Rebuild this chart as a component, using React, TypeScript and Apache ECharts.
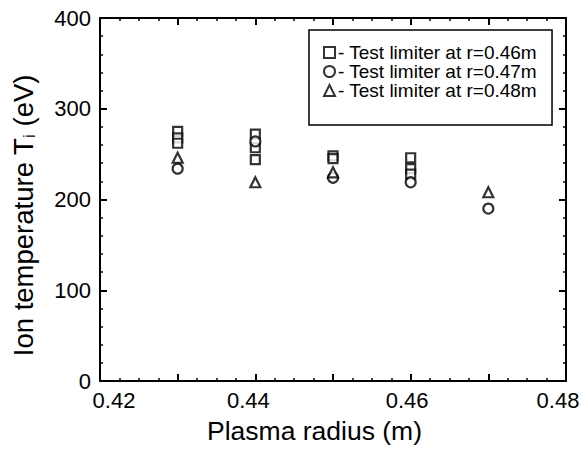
import React, { useEffect, useRef } from "react";
import * as echarts from "echarts";

const seriesNames = [
  "- Test limiter at r=0.46m",
  "- Test limiter at r=0.47m",
  "- Test limiter at r=0.48m",
];
const squareX = [0.43, 0.43, 0.43, 0.44, 0.44, 0.44, 0.45, 0.45, 0.46, 0.46, 0.46];
const squareY = [275, 268, 262, 272, 257, 244, 248, 245, 246, 234, 228];
const circleX = [0.43, 0.44, 0.45, 0.46, 0.47];
const circleY = [234, 264, 224, 219, 190];
const triangleX = [0.43, 0.44, 0.45, 0.47];
const triangleY = [246, 219, 230, 208];
const xTicks = [0.42, 0.44, 0.46, 0.48];
const yTicks = [0, 100, 200, 300, 400];

const zip = (xs: number[], ys: number[]) => xs.map((x, i) => [x, ys[i]]);

export default function App() {
  const ref = useRef<HTMLDivElement>(null);
  useEffect(() => {
    if (!ref.current) return;
    const chart = echarts.init(ref.current, undefined, { renderer: "svg" });
    const font = "'Liberation Sans', Arial, Helvetica, sans-serif";
    const axisLine = { show: true, onZero: false, lineStyle: { color: "#000", width: 2 } };
    const axisTick = { show: true, inside: true, length: 7, lineStyle: { color: "#000", width: 2 } };
    const minorLine = { color: "#000", width: 1.5 };
    const labelBase = { fontFamily: font, fontSize: 22, color: "#000" };
    // small per-label offsets as seen in the reference figure
    const xLabelRich: Record<string, any> = {
      l0: { ...labelBase, padding: [0, 0, 0, 28] },
      l1: { ...labelBase, padding: [0, 14, 0, 0] },
      l2: { ...labelBase, padding: [0, 7, 0, 0] },
      l3: { ...labelBase, padding: [0, 16, 0, 0] },
    };
    const xFmt = (v: number) => {
      const r = Math.round(v * 100) / 100;
      const idx = xTicks.findIndex((t) => Math.abs(t - r) < 1e-6);
      return idx >= 0 ? `{l${idx}|${r.toFixed(2)}}` : "";
    };
    const yFmt = (v: number) => (yTicks.includes(Math.round(v)) ? String(Math.round(v)) : "");
    const sym = { color: "#fff", borderColor: "#000", borderWidth: 2.2 };
    chart.setOption({
      animation: false,
      backgroundColor: "#fff",
      textStyle: { fontFamily: font },
      grid: { left: 100, right: 21, top: 18, bottom: 68 },
      legend: {
        orient: "vertical",
        left: 309,
        top: 30,
        padding: [13, 15, 25, 14],
        itemGap: 0,
        itemWidth: 11,
        itemHeight: 11,
        borderColor: "#000",
        borderWidth: 1.5,
        textStyle: {
          fontFamily: font,
          fontSize: 19,
          lineHeight: 18,
          color: "#000",
          padding: [0, 0, 0, -2],
        },
        data: seriesNames,
      },
      xAxis: [
        {
          type: "value",
          min: 0.42,
          max: 0.48,
          interval: 0.01,
          position: "bottom",
          name: "Plasma radius (m)",
          nameLocation: "middle",
          nameGap: 36,
          nameTextStyle: { fontFamily: font, fontSize: 26.5, color: "#000", padding: [0, 37, 0, 0] },
          axisLabel: { ...labelBase, formatter: xFmt, margin: 8, rich: xLabelRich },
          minorTick: { show: true, splitNumber: 4, length: 3, lineStyle: minorLine },
          axisLine,
          axisTick,
          splitLine: { show: false },
        },
        {
          type: "value",
          min: 0.42,
          max: 0.48,
          interval: 0.01,
          position: "top",
          axisLabel: { show: false },
          minorTick: { show: true, splitNumber: 4, length: 3, lineStyle: minorLine },
          axisLine,
          axisTick,
          splitLine: { show: false },
        },
      ],
      yAxis: [
        {
          type: "value",
          min: 0,
          max: 400,
          interval: 100,
          position: "left",
          name: "Ion temperature T{sub|i} (eV)",
          nameLocation: "middle",
          nameGap: 62,
          nameTextStyle: {
            fontFamily: font,
            fontSize: 27.5,
            color: "#000",
            padding: [0, 32, 0, 0],
            rich: {
              sub: {
                fontFamily: font,
                fontSize: 17,
                color: "#000",
                verticalAlign: "bottom",
                padding: [12, 0, 0, 0],
              },
            },
          },
          axisLabel: { ...labelBase, formatter: yFmt, margin: 9 },
          minorTick: { show: true, splitNumber: 5, length: 3, lineStyle: minorLine },
          axisLine,
          axisTick,
          splitLine: { show: false },
        },
        {
          type: "value",
          min: 0,
          max: 400,
          interval: 100,
          position: "right",
          axisLabel: { show: false },
          minorTick: { show: true, splitNumber: 5, length: 3, lineStyle: minorLine },
          axisLine,
          axisTick,
          splitLine: { show: false },
        },
      ],
      series: [
        {
          name: seriesNames[0],
          type: "scatter",
          symbol: "rect",
          symbolSize: 9,
          itemStyle: sym,
          data: zip(squareX, squareY),
        },
        {
          name: seriesNames[1],
          type: "scatter",
          symbol: "circle",
          symbolSize: 10,
          itemStyle: sym,
          data: zip(circleX, circleY),
        },
        {
          name: seriesNames[2],
          type: "scatter",
          symbol: "triangle",
          symbolSize: 10,
          itemStyle: sym,
          data: zip(triangleX, triangleY),
        },
      ],
    });
    return () => chart.dispose();
  }, []);
  return <div ref={ref} style={{ width: 587, height: 449, position: "absolute", left: 0, top: 0 }} />;
}
